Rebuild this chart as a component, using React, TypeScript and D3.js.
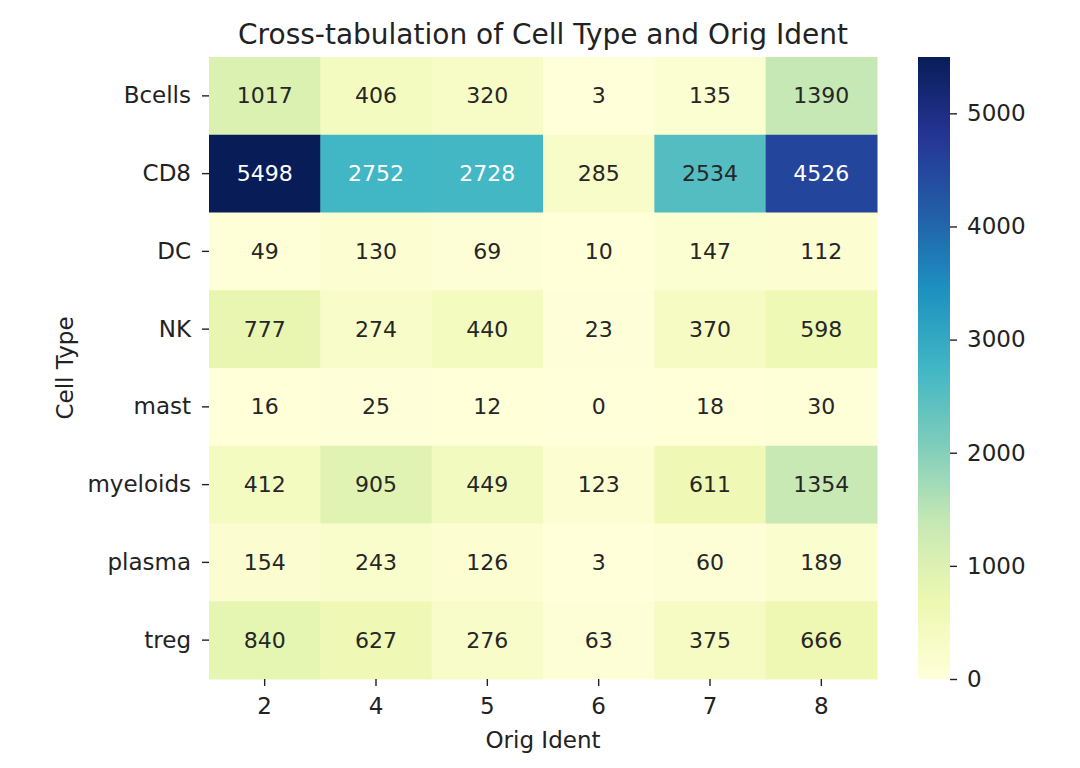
import { useEffect, useRef } from "react";
import * as d3 from "d3";

const WIDTH = 1080;
const HEIGHT = 768;
const HEAT = { left: 209, right: 877, top: 57, bottom: 679 };
const CBAR = { left: 918, right: 950 };
const FONT = "'DejaVu Sans', sans-serif";
const TICK_FONT = "23px";

const cellTypes = ["Bcells", "CD8", "DC", "NK", "mast", "myeloids", "plasma", "treg"];
const origIdents = ["2", "4", "5", "6", "7", "8"];

const bcells = [1017, 406, 320, 3, 135, 1390];
const cd8 = [5498, 2752, 2728, 285, 2534, 4526];
const dc = [49, 130, 69, 10, 147, 112];
const nk = [777, 274, 440, 23, 370, 598];
const mast = [16, 25, 12, 0, 18, 30];
const myeloids = [412, 905, 449, 123, 611, 1354];
const plasma = [154, 243, 126, 3, 60, 189];
const treg = [840, 627, 276, 63, 375, 666];

const counts = [bcells, cd8, dc, nk, mast, myeloids, plasma, treg];
const colorbarTicks = [0, 1000, 2000, 3000, 4000, 5000];

// matplotlib's YlGnBu is a linear ramp through the 9 ColorBrewer colours
const YLGNBU = ["#ffffd9", "#edf8b1", "#c7e9b4", "#7fcdbb", "#41b6c4", "#1d91c0", "#225ea8", "#253494", "#081d58"];

type Cell = { row: string; col: string; value: number };

function luminance(color: string) {
  const c = d3.rgb(color);
  const lin = (v: number) => {
    const s = v / 255;
    return s <= 0.03928 ? s / 12.92 : Math.pow((s + 0.055) / 1.055, 2.4);
  };
  return 0.2126 * lin(c.r) + 0.7152 * lin(c.g) + 0.0722 * lin(c.b);
}

function styleAxis(axisG: any) {
  axisG.select(".domain").remove();
  axisG.selectAll("line").attr("stroke", "#222").attr("stroke-width", 1.4);
  axisG
    .selectAll("text")
    .attr("fill", "#222")
    .style("font-family", FONT)
    .style("font-size", TICK_FONT);
}

export default function App() {
  const svgRef = useRef<SVGSVGElement | null>(null);

  useEffect(() => {
    if (!svgRef.current) return;
    const svg = d3.select(svgRef.current);
    svg.selectAll("*").remove();

    const cells: Cell[] = [];
    cellTypes.forEach((row, i) =>
      origIdents.forEach((col, j) => cells.push({ row, col, value: counts[i][j] })),
    );

    const vmin = d3.min(cells, (d) => d.value) ?? 0;
    const vmax = d3.max(cells, (d) => d.value) ?? 1;

    const x = d3.scaleBand().domain(origIdents).range([HEAT.left, HEAT.right]);
    const y = d3.scaleBand().domain(cellTypes).range([HEAT.top, HEAT.bottom]);
    const ramp = d3.piecewise(d3.interpolateRgb, YLGNBU);
    const color = d3.scaleSequential(ramp).domain([vmin, vmax]);

    // cells
    svg
      .append("g")
      .selectAll("rect")
      .data(cells)
      .enter()
      .append("rect")
      .attr("x", (d) => x(d.col) ?? 0)
      .attr("y", (d) => y(d.row) ?? 0)
      .attr("width", x.bandwidth() + 0.5)
      .attr("height", y.bandwidth() + 0.5)
      .attr("fill", (d) => color(d.value));

    // annotations
    svg
      .append("g")
      .selectAll("text")
      .data(cells)
      .enter()
      .append("text")
      .attr("x", (d) => (x(d.col) ?? 0) + x.bandwidth() / 2)
      .attr("y", (d) => (y(d.row) ?? 0) + y.bandwidth() / 2)
      .attr("text-anchor", "middle")
      .attr("dominant-baseline", "central")
      .attr("fill", (d) => (luminance(color(d.value)) > 0.408 ? "#262626" : "#ffffff"))
      .style("font-family", FONT)
      .style("font-size", "22px")
      .text((d) => `${d.value}`);

    // x axis
    svg
      .append("g")
      .attr("transform", `translate(0,${HEAT.bottom})`)
      .call(d3.axisBottom(x).tickSize(7).tickPadding(12))
      .call(styleAxis);

    // y axis
    svg
      .append("g")
      .attr("transform", `translate(${HEAT.left},0)`)
      .call(d3.axisLeft(y).tickSize(7).tickPadding(11))
      .call(styleAxis);

    // colorbar
    const cbY = d3.scaleLinear().domain([vmin, vmax]).range([HEAT.bottom, HEAT.top]);
    const grad = svg
      .append("defs")
      .append("linearGradient")
      .attr("id", "cbar-grad")
      .attr("x1", 0)
      .attr("y1", 1)
      .attr("x2", 0)
      .attr("y2", 0);
    YLGNBU.forEach((c, i) => {
      grad
        .append("stop")
        .attr("offset", `${(i / (YLGNBU.length - 1)) * 100}%`)
        .attr("stop-color", c);
    });
    svg
      .append("rect")
      .attr("x", CBAR.left)
      .attr("y", HEAT.top)
      .attr("width", CBAR.right - CBAR.left)
      .attr("height", HEAT.bottom - HEAT.top)
      .attr("fill", "url(#cbar-grad)");

    svg
      .append("g")
      .attr("transform", `translate(${CBAR.right},0)`)
      .call(
        d3
          .axisRight(cbY)
          .tickValues(colorbarTicks)
          .tickFormat((v: any) => `${v}`)
          .tickSize(7)
          .tickPadding(10),
      )
      .call(styleAxis);

    // title and axis labels
    const midX = (HEAT.left + HEAT.right) / 2;
    svg
      .append("text")
      .attr("x", midX)
      .attr("y", 34)
      .attr("text-anchor", "middle")
      .attr("dominant-baseline", "central")
      .attr("fill", "#222")
      .style("font-family", FONT)
      .style("font-size", "28px")
      .text("Cross-tabulation of Cell Type and Orig Ident");

    svg
      .append("text")
      .attr("x", midX)
      .attr("y", 740)
      .attr("text-anchor", "middle")
      .attr("dominant-baseline", "central")
      .attr("fill", "#222")
      .style("font-family", FONT)
      .style("font-size", TICK_FONT)
      .text("Orig Ident");

    svg
      .append("text")
      .attr("transform", `translate(65,${(HEAT.top + HEAT.bottom) / 2}) rotate(-90)`)
      .attr("text-anchor", "middle")
      .attr("dominant-baseline", "central")
      .attr("fill", "#222")
      .style("font-family", FONT)
      .style("font-size", TICK_FONT)
      .text("Cell Type");
  }, []);

  return (
    <svg
      ref={svgRef}
      width={WIDTH}
      height={HEIGHT}
      style={{ position: "absolute", left: 0, top: 0, background: "#fff" }}
    />
  );
}
